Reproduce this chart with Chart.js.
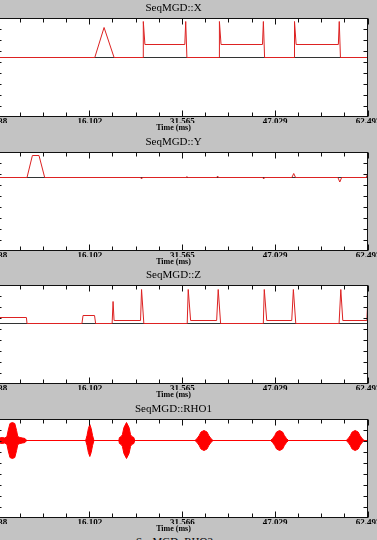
<!DOCTYPE html>
<html>
<head>
<meta charset="utf-8">
<script src="https://cdn.jsdelivr.net/npm/chart.js@4.4.1/dist/chart.umd.min.js"></script>
<style>
  html, body { margin: 0; padding: 0; background: #c3c3c3; width: 377px; height: 540px; overflow: hidden; position: relative; }
  .panel { position: absolute; left: -20px; width: 402px; height: 131px; }
  #rho2 { position: absolute; left: 2px; width: 345px; top: 535px; text-align: center;
          font: 11px "Liberation Serif", serif; color: #000; line-height: 13px; }
</style>
</head>
<body>
<div class="panel" style="top:2px"><canvas id="cx"></canvas></div>
<div class="panel" style="top:136px"><canvas id="cy"></canvas></div>
<div class="panel" style="top:269px"><canvas id="cz"></canvas></div>
<div class="panel" style="top:403px"><canvas id="crho"></canvas></div>
<div id="rho2">SeqMGD::RHO2</div>
<script>
// time axis (ms)
const tickValues = [0.638, 16.102, 31.565, 47.029, 62.493];
const tickLabels = ['0.638', '16.102', '31.565', '47.029', '62.493'];
const tickLabelsRho = ['0.638', '16.102', '31.566', '47.029', '62.493'];

// gradient X
const gxT = [0.638, 16.94, 18.49, 20.16, 25.00, 25.03, 25.30, 31.95, 32.10, 32.30,
             37.69, 37.72, 37.99, 44.90, 45.05, 45.25, 50.21, 50.24, 50.51, 57.55, 57.70, 57.90, 62.493];
const gxV = [0, 0, 30, 0, 0, 36, 13, 13, 36, 0,
             0, 36, 13, 13, 36, 0, 0, 36, 13, 13, 36, 0, 0];

// gradient Y
const gyT = [0.638, 5.64, 6.54, 7.64, 8.59, 24.60, 24.74, 24.88, 32.16, 32.30, 32.44,
             37.28, 37.42, 37.56, 44.96, 45.10, 45.24, 49.80, 50.11, 50.42,
             57.48, 57.79, 58.10, 62.20, 62.38, 62.493];
const gyV = [0, 0, 22, 22, 0, 0, -1.5, 0, 0, 1, 0,
             0, 1.5, 0, 0, -1.5, 0, 0, 4, 0,
             0, -4.5, 0, 0, 3, 0];

// gradient Z
const gzT = [0.638, 5.54, 5.64, 14.80, 14.98, 16.90, 17.08, 19.83, 19.99, 20.16, 24.57, 24.74, 25.12,
             32.35, 32.52, 32.92, 37.26, 37.52, 37.92, 45.04, 45.20, 45.61, 49.78, 50.05, 50.45,
             57.67, 57.96, 58.29, 62.30, 62.493];
const gzV = [6, 6, 0, 0, 8, 8, 0, 0, 22, 3, 3, 34, 0,
             0, 34, 3, 3, 34, 0, 0, 34, 3, 3, 34, 0,
             0, 34, 3, 3, 28];

// RF pulse envelope (RHO1)
const rhoT = [0.638, 0.90, 1.05, 1.5, 1.95, 2.3, 2.5, 2.8, 3.2, 3.6, 3.9, 4.1, 4.45, 4.9, 5.3, 5.6,
              15.42, 15.65, 15.88, 16.11, 16.34, 16.57, 16.80,
              20.95, 21.05, 21.35, 21.55, 21.8, 22.23, 22.65, 22.9, 23.1, 23.45, 23.6,
              33.65, 34.0, 34.35, 34.65, 35.15, 35.65, 35.95, 36.3, 36.65,
              46.25, 46.6, 46.95, 47.25, 47.75, 48.25, 48.55, 48.9, 49.25,
              58.85, 59.2, 59.55, 59.85, 60.35, 60.85, 61.15, 61.5, 61.85, 62.493];
const rhoEnv = [0, 0, 2.5, 3, 2.5, 4, 10, 17, 18, 17, 10, 4, 3, 2.5, 2, 0,
                0, 5, 12, 16, 12, 5, 0,
                0, 3, 4, 6, 13, 18, 13, 6, 4, 3, 0,
                0, 2, 5, 8.5, 10, 8.5, 5, 2, 0,
                0, 2, 5, 8.5, 10, 8.5, 5, 2, 0,
                0, 2, 5, 8.5, 10, 8.5, 5, 2, 0, 0];

const RED = '#dd2222';
const serif = '"Liberation Serif", "Times New Roman", serif';

function pts(ts, vs) {
  return ts.map((t, i) => ({ x: t, y: vs[i] }));
}

const half = v => Math.floor(v) + 0.5;

// white plot area, zero line, frame and inward ticks
const framePlugin = {
  id: 'frame',
  beforeDraw(chart) {
    const a = chart.chartArea, ctx = chart.ctx;
    ctx.save();
    ctx.fillStyle = '#fff';
    ctx.fillRect(a.left, a.top, a.width, a.height);
    ctx.restore();
  },
  beforeDatasetsDraw(chart) {
    const a = chart.chartArea, ctx = chart.ctx;
    const y0 = half(chart.scales.y.getPixelForValue(0));
    ctx.save();
    ctx.strokeStyle = '#333';
    ctx.lineWidth = 1;
    ctx.beginPath();
    ctx.moveTo(a.left, y0);
    ctx.lineTo(a.right, y0);
    ctx.stroke();
    ctx.restore();
  },
  afterDatasetsDraw(chart) {
    const a = chart.chartArea, ctx = chart.ctx;
    const x = chart.scales.x, y = chart.scales.y;
    const L = half(a.left), R = half(a.right - 1);
    const T = half(a.top), B = half(a.bottom - 1);
    ctx.save();
    ctx.strokeStyle = '#111';
    ctx.lineWidth = 1;
    ctx.strokeRect(L, T, R - L, B - T);
    ctx.beginPath();
    for (let i = 0; i < tickValues.length; i++) {
      const steps = i < tickValues.length - 1 ? 4 : 1;
      for (let q = 0; q < steps; q++) {
        const v = q === 0 ? tickValues[i] : tickValues[i] + (tickValues[i + 1] - tickValues[i]) * q / 4;
        const px = half(x.getPixelForValue(v));
        const len = q === 0 ? 6 : 4;
        ctx.moveTo(px, T); ctx.lineTo(px, T + len);
        ctx.moveTo(px, B); ctx.lineTo(px, B - len);
      }
    }
    for (let k = 1; k < 9; k++) {
      const py = half(y.getPixelForValue(y.max - (y.max - y.min) * k / 9));
      ctx.moveTo(L, py); ctx.lineTo(L + 4, py);
      ctx.moveTo(R, py); ctx.lineTo(R - 4, py);
    }
    ctx.stroke();
    ctx.restore();
  },
  afterLayout(chart) {
    // titles in the original are centred a bit left of the plot
    chart.boxes.forEach(b => {
      if (!b.axis && b.options && typeof b.options.text === 'string') {
        b.left -= 9;
        b.right -= 9;
      }
    });
  }
};

function makeChart(id, title, datasets, yMin, yMax, labels) {
  return new Chart(document.getElementById(id), {
    type: 'line',
    data: { datasets: datasets },
    options: {
      responsive: true,
      maintainAspectRatio: false,
      animation: false,
      events: [],
      layout: { padding: { left: 17, right: 14, top: 0, bottom: 0 } },
      elements: { point: { radius: 0 }, line: { tension: 0, borderWidth: 1 } },
      plugins: {
        legend: { display: false },
        tooltip: { enabled: false },
        title: {
          display: true, text: title, color: '#000',
          font: { family: serif, size: 11, weight: 'normal', lineHeight: '13px' },
          padding: { top: 0, bottom: 3 }
        },
        subtitle: {
          display: true, position: 'bottom', text: 'Time (ms)', color: '#000',
          font: { family: serif, size: 8, weight: 'bold', lineHeight: '10px' },
          padding: 0
        }
      },
      scales: {
        x: {
          type: 'linear', min: tickValues[0], max: tickValues[tickValues.length - 1],
          afterBuildTicks: s => { s.ticks = tickValues.map(v => ({ value: v })); },
          afterFit: s => { s.height = 6; s.paddingLeft = 0; s.paddingRight = 0; },
          grid: { display: false, drawTicks: false },
          border: { display: false },
          ticks: {
            autoSkip: false, maxRotation: 0, padding: 0, color: '#000',
            font: { family: serif, size: 9, weight: 'bold', lineHeight: '10px' },
            callback: (v, i) => labels[i]
          }
        },
        y: { type: 'linear', display: false, min: yMin, max: yMax }
      }
    },
    plugins: [framePlugin]
  });
}

const line = (ts, vs) => ({ data: pts(ts, vs), borderColor: RED, borderWidth: 1, fill: false });

makeChart('cx', 'SeqMGD::X', [line(gxT, gxV)], -59.5, 39.5, tickLabels);
makeChart('cy', 'SeqMGD::Y', [line(gyT, gyV)], -73.5, 25.5, tickLabels);
makeChart('cz', 'SeqMGD::Z', [line(gzT, gzV)], -60.5, 38.5, tickLabels);
makeChart('crho', 'SeqMGD::RHO1', [
  { data: pts(rhoT, rhoEnv), borderColor: '#ff0000', backgroundColor: '#ff0000', borderWidth: 1, fill: '+1' },
  { data: pts(rhoT, rhoEnv.map(v => -v)), borderColor: '#ff0000', borderWidth: 1, fill: false }
], -77.5, 21.5, tickLabelsRho);
</script>
</body>
</html>
